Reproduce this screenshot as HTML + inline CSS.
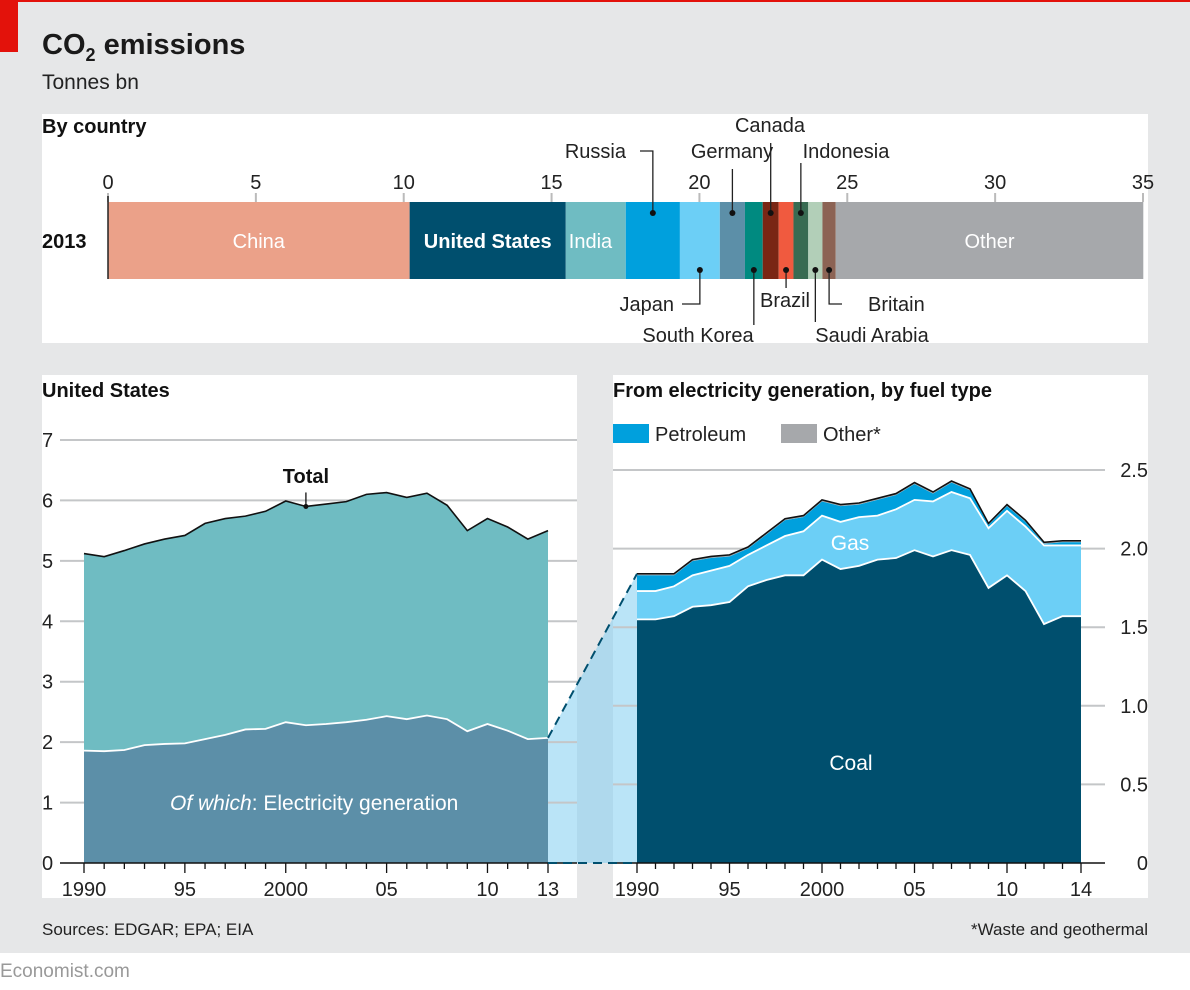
<!DOCTYPE html>
<html><head><meta charset="utf-8"><style>
body{margin:0;background:#fff;}
svg{display:block;font-family:"Liberation Sans",sans-serif;}
</style></head><body>
<svg id="c" width="1190" height="990" viewBox="0 0 1190 990">
<rect x="0" y="0" width="1190" height="953" fill="#e6e7e8"/>
<rect x="0" y="0" width="1190" height="2" fill="#e3120b"/>
<rect x="0" y="0" width="18" height="52" fill="#e3120b"/>
<text x="42" y="54" font-size="29" font-weight="bold" fill="#1a1a1a">CO<tspan font-size="18" dy="7">2</tspan><tspan dy="-7"> emissions</tspan></text>
<text x="42" y="89" font-size="21" fill="#222">Tonnes bn</text>
<rect x="42" y="114" width="1106" height="229" fill="#fff"/>
<rect x="42" y="375" width="535" height="523" fill="#fff"/>
<rect x="613" y="375" width="535" height="523" fill="#fff"/>
<text x="42" y="133" font-size="20" font-weight="bold" fill="#111">By country</text>
<text x="42" y="397" font-size="20" font-weight="bold" fill="#111">United States</text>
<text x="613" y="397" font-size="20" font-weight="bold" fill="#111">From electricity generation, by fuel type</text>
<rect x="613" y="424" width="36" height="19" fill="#00a0dd"/>
<text x="655" y="441" font-size="20" fill="#222">Petroleum</text>
<rect x="781" y="424" width="36" height="19" fill="#a6a8ab"/>
<text x="823" y="441" font-size="20" fill="#222">Other*</text>
<text x="42" y="935" font-size="17" fill="#222">Sources: EDGAR; EPA; EIA</text>
<text x="1148" y="935" font-size="17" fill="#222" text-anchor="end">*Waste and geothermal</text>
<text x="0" y="977" font-size="19" fill="#999">Economist.com</text>
<g id="g"></g>
</svg>
<script>
// Top bar data
const countries=["China","United States","India","Russia","Japan","Germany","South Korea","Canada","Brazil","Indonesia","Saudi Arabia","Britain","Other"];
const countryValues=[10.2,5.28,2.03,1.83,1.35,0.85,0.6,0.54,0.5,0.5,0.48,0.45,10.4];
const countryColors=["#eba189","#004f6e","#6fbcc2","#00a0dd","#6ccff6","#5c8fa8","#008a80","#7a2614","#f05a3f","#386b52","#b2cfb8","#8c6354","#a6a8ab"];
const countryTicks=[0,5,10,15,20,25,30,35];
// US chart
const years=[1990,1991,1992,1993,1994,1995,1996,1997,1998,1999,2000,2001,2002,2003,2004,2005,2006,2007,2008,2009,2010,2011,2012,2013];
const usTotal=[5.12,5.07,5.17,5.28,5.36,5.42,5.62,5.70,5.74,5.82,5.99,5.90,5.94,5.98,6.10,6.13,6.05,6.12,5.92,5.50,5.70,5.56,5.36,5.50];
const usElec=[1.86,1.85,1.87,1.95,1.97,1.98,2.05,2.12,2.21,2.22,2.33,2.28,2.30,2.33,2.37,2.43,2.38,2.44,2.38,2.18,2.30,2.19,2.05,2.07];
const usTicks=[0,1,2,3,4,5,6,7];
const usXTicks=["1990","95","2000","05","10","13"];
// Fuel chart
const fYears=[1990,1991,1992,1993,1994,1995,1996,1997,1998,1999,2000,2001,2002,2003,2004,2005,2006,2007,2008,2009,2010,2011,2012,2013,2014];
const coal=[1.55,1.55,1.57,1.63,1.64,1.66,1.76,1.80,1.83,1.83,1.93,1.87,1.89,1.93,1.94,1.99,1.95,1.99,1.96,1.75,1.83,1.73,1.52,1.57,1.57];
const gas=[0.18,0.18,0.19,0.20,0.22,0.23,0.20,0.22,0.25,0.28,0.28,0.30,0.31,0.28,0.31,0.32,0.35,0.37,0.36,0.38,0.41,0.41,0.50,0.45,0.45];
const petroleum=[0.10,0.10,0.07,0.09,0.08,0.06,0.04,0.07,0.10,0.09,0.09,0.10,0.08,0.10,0.09,0.10,0.05,0.06,0.05,0.02,0.03,0.03,0.01,0.02,0.02];
const otherFuel=[0.01,0.01,0.01,0.01,0.01,0.01,0.01,0.01,0.01,0.01,0.01,0.01,0.01,0.01,0.01,0.01,0.01,0.01,0.01,0.01,0.01,0.01,0.01,0.01,0.01];
const fTicks=[0,0.5,1.0,1.5,2.0,2.5];
const fXTicks=["1990","95","2000","05","10","14"];

const NS="http://www.w3.org/2000/svg";
const G=document.getElementById('g');
function mk(t,a,p){const e=document.createElementNS(NS,t);for(const k in a)e.setAttribute(k,a[k]);(p||G).appendChild(e);return e;}
function txt(x,y,s,a){const e=mk('text',Object.assign({x:x,y:y},a));e.textContent=s;return e;}

// ---- top bar
const bx=v=>108+v*(1143-108)/35;
countryTicks.forEach(t=>{
  const l=mk('line',{x1:bx(t),x2:bx(t),y1:193,y2:202,stroke:'#bbb','stroke-width':2});
  
  
  const e=txt(bx(t),189,String(t),{'font-size':20,'text-anchor':'middle',fill:'#222'});
  
  
});
let cum=0;const segs=[];
countries.forEach((c,i)=>{
  const x0=bx(cum),x1=bx(cum+countryValues[i]);cum+=countryValues[i];
  const r=mk('rect',{x:x0,y:202,width:x1-x0,height:77,fill:countryColors[i]});
  
  
  segs.push([x0,x1]);
});
mk('line',{x1:108,x2:108,y1:196,y2:279,stroke:'#222','stroke-width':1.5});
const t13=txt(42,248,'2013',{'font-size':20,'font-weight':'bold',fill:'#111'});


[[0,'China'],[1,'United States'],[2,'India'],[12,'Other']].forEach(([i,n])=>{
  const s=segs[i];
  const e=txt(i==2?s[0]+3:(s[0]+s[1])/2,248,n,{'font-size':20,'text-anchor':i==2?'start':'middle',fill:'#fff','font-weight':i==1?'bold':'normal'});
  
  
});
// callouts: [index, dotY, path points, label x, label y, anchor]
const mid=i=>(segs[i][0]+segs[i][1])/2;
const callouts=[
 [3,213,[[mid(3),213],[mid(3),151],[640,151]],626,158,'end'],
 [4,270,[[mid(4),270],[mid(4),304],[682,304]],674,311,'end'],
 [5,213,[[mid(5),213],[mid(5),169]],732,158,'middle'],
 [6,270,[[mid(6),270],[mid(6),325]],698,342,'middle'],
 [7,213,[[mid(7),213],[mid(7),143]],770,132,'middle'],
 [8,270,[[mid(8),270],[mid(8),288]],785,307,'middle'],
 [9,213,[[mid(9),213],[mid(9),163]],846,158,'middle'],
 [10,270,[[mid(10),270],[mid(10),322]],872,342,'middle'],
 [11,270,[[mid(11),270],[mid(11),304],[842,304]],868,311,'start']
];
callouts.forEach(([i,dy,pts,lx,ly,an])=>{
  const p=mk('polyline',{points:pts.map(q=>q.join(',')).join(' '),fill:'none',stroke:'#222','stroke-width':1.3});
  
  
  const d=mk('circle',{cx:mid(i),cy:dy,r:3,fill:'#111'});
  
  
  const e=txt(lx,ly,countries[i],{'font-size':20,'text-anchor':an,fill:'#222'});
  
  
});

// ---- US chart axes
const ux=y=>84+(y-1990)*(548-84)/23;
const uy=v=>863-v*60.43;
const fx=y=>637+(y-1990)*(1081-637)/24;
const fy=v=>863-v*157.2;

// trapezoid link
const tr=mk('polygon',{points:`${ux(2013)},${uy(usElec[23])} ${fx(1990)},${fy(coal[0]+gas[0]+petroleum[0]+otherFuel[0])} ${fx(1990)},863 ${ux(2013)},863`,fill:'rgba(130,205,240,0.55)'});



usTicks.forEach(t=>{
  if(t>0){const l=mk('line',{x1:60,x2:577,y1:uy(t),y2:uy(t),stroke:'#c4c6c8','stroke-width':2});
  
  }
  const e=txt(42,uy(t)+7,String(t),{'font-size':20,fill:'#222'});
  
  
});
function area(xf,yf,xs,top,bot){let d='M'+xs.map((x,i)=>xf(x)+','+yf(top[i])).join('L');for(let i=xs.length-1;i>=0;i--)d+='L'+xf(xs[i])+','+yf(bot[i]);return d+'Z';}
function line(xf,yf,xs,v){return 'M'+xs.map((x,i)=>xf(x)+','+yf(v[i])).join('L');}
const zeros=years.map(()=>0);
let a=mk('path',{d:area(ux,uy,years,usTotal,usElec),fill:'#6fbcc2'});


a=mk('path',{d:area(ux,uy,years,usElec,zeros),fill:'#5c8fa8'});


a=mk('path',{d:line(ux,uy,years,usElec),fill:'none',stroke:'#fff','stroke-width':1.8});


a=mk('path',{d:line(ux,uy,years,usTotal),fill:'none',stroke:'#111','stroke-width':1.6});


mk('line',{x1:ux(2001),x2:ux(2001),y1:uy(usTotal[11]),y2:uy(usTotal[11])-14,stroke:'#111','stroke-width':1.3});
mk('circle',{cx:ux(2001),cy:uy(usTotal[11]),r:2.5,fill:'#111'});
a=txt(ux(2001),483,'Total',{'font-size':20,'font-weight':'bold','text-anchor':'middle',fill:'#111'});


a=txt(170,810,'',{'font-size':21,fill:'#fff'});
a.innerHTML='<tspan font-style="italic">Of which</tspan>: Electricity generation';


mk('line',{x1:60,x2:577,y1:863,y2:863,stroke:'#111','stroke-width':1.5});
for(let y=1990;y<=2013;y++){const big=(y%5==0)||y==2013;mk('line',{x1:ux(y),x2:ux(y),y1:863,y2:big?873:869,stroke:'#111','stroke-width':1.3});}
[1990,1995,2000,2005,2010,2013].forEach((y,i)=>{
  const e=txt(ux(y),896,usXTicks[i],{'font-size':20,'text-anchor':'middle',fill:'#222'});
  
  
});

// ---- fuel chart
fTicks.forEach(t=>{
  if(t>0){const l=mk('line',{x1:613,x2:1105,y1:fy(t),y2:fy(t),stroke:'#c4c6c8','stroke-width':2});
  
  }
  const e=txt(1148,fy(t)+7,t==0?'0':t.toFixed(1),{'font-size':20,'text-anchor':'end',fill:'#222'});
  
  
});
const fz=fYears.map(()=>0);
const c1=coal,c2=coal.map((v,i)=>v+gas[i]),c3=c2.map((v,i)=>v+petroleum[i]),c4=c3.map((v,i)=>v+otherFuel[i]);
[[c4,c3,'#a6a8ab','other'],[c3,c2,'#00a0dd','petroleum'],[c2,c1,'#6ccff6','gas'],[c1,fz,'#004f6e','coal']].forEach(([t,b,col,n])=>{
  const p=mk('path',{d:area(fx,fy,fYears,t,b),fill:col});
  
  
});
[c1,c2].forEach(v=>{mk('path',{d:line(fx,fy,fYears,v),fill:'none',stroke:'#fff','stroke-width':1.8});});
a=mk('path',{d:line(fx,fy,fYears,c4),fill:'none',stroke:'#111','stroke-width':1.6});


a=txt(850,550,'Gas',{'font-size':21,'text-anchor':'middle',fill:'#fff'});


a=txt(851,770,'Coal',{'font-size':21,'text-anchor':'middle',fill:'#fff'});


mk('line',{x1:613,x2:1105,y1:863,y2:863,stroke:'#111','stroke-width':1.5});
for(let y=1990;y<=2014;y++){const big=(y%5==0)||y==2014;mk('line',{x1:fx(y),x2:fx(y),y1:863,y2:big?873:869,stroke:'#111','stroke-width':1.3});}
[1990,1995,2000,2005,2010,2014].forEach((y,i)=>{
  const e=txt(fx(y),896,fXTicks[i],{'font-size':20,'text-anchor':'middle',fill:'#222'});
  
  
});
// dashed connector lines
mk('line',{x1:ux(2013),y1:uy(usElec[23]),x2:fx(1990),y2:fy(c4[0]),stroke:'#004f6e','stroke-width':2,'stroke-dasharray':'9,6'});
mk('line',{x1:ux(2013),y1:863,x2:fx(1990),y2:863,stroke:'#004f6e','stroke-width':2,'stroke-dasharray':'9,6'});
</script>
</body></html>
